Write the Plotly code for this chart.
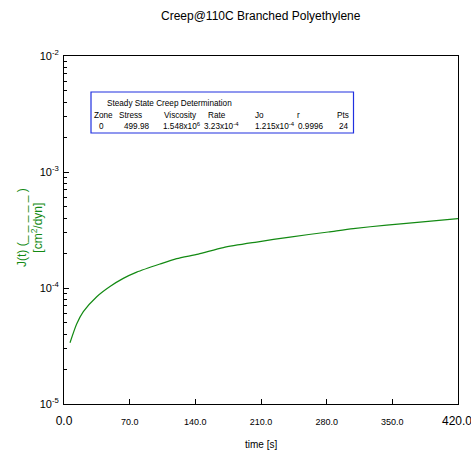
import plotly.graph_objects as go

# Data
time_s = [6.4, 13.5, 20.6, 34.9, 49.0, 63.2, 77.5, 102.3, 120.1, 143.2, 169.8,
          205.4, 240.9, 281.7, 308.4, 344.0, 379.5, 420.0]
compliance = [3.37e-5, 4.89e-5, 6.25e-5, 8.41e-5, 1.03e-4, 1.21e-4, 1.37e-4,
              1.61e-4, 1.79e-4, 1.96e-4, 2.23e-4, 2.49e-4, 2.75e-4, 3.04e-4,
              3.25e-4, 3.49e-4, 3.69e-4, 3.96e-4]

x_ticks = [0, 70, 140, 210, 280, 350, 420]
x_ticktext = ["0.0", "70.0", "140.0", "210.0", "280.0", "350.0", "420.0"]
y_ticks = [1e-5, 1e-4, 1e-3, 1e-2]
y_ticktext = ["10<sup>-5</sup>", "10<sup>-4</sup>", "10<sup>-3</sup>", "10<sup>-2</sup>"]
y_minor = [m * 10 ** e for e in (-5, -4, -3) for m in range(2, 10)]

table_title = "Steady State Creep Determination"
table_headers = ["Zone", "Stress", "Viscosity", "Rate", "Jo", "r", "Pts"]
SUP = "<sup><span style='font-size:6px'>{}</span></sup>"
table_values = ["0", "499.98", "1.548x10" + SUP.format("6"), "3.23x10" + SUP.format("-4"),
                "1.215x10" + SUP.format("-4"), "0.9996", "24"]

GREEN = "#138a13"
FONT = "Liberation Sans, Arial, sans-serif"

# plot area in pixels
L, R, T, B = 64, 458, 56, 404
W, H = 471, 451


def px(x):
    return (x - L) / (R - L)


def py(y):
    return (B - y) / (B - T)


fig = go.Figure()
fig.add_trace(go.Scatter(x=time_s, y=compliance, mode="lines",
                         line=dict(color=GREEN, width=1.2, shape="spline", smoothing=0.7),
                         showlegend=False, hoverinfo="skip"))

tt = []
for i, t in enumerate(x_ticktext):
    if i == 0:
        tt.append(t)
    elif i == len(x_ticktext) - 1:
        tt.append("")
    else:
        tt.append("<span style='font-size:9px'>" + t + "</span>")

fig.update_xaxes(range=[0, 420], tickvals=x_ticks, ticktext=tt,
                 ticks="inside", ticklen=5, tickcolor="black",
                 showline=True, linecolor="black", linewidth=1, mirror=True,
                 showgrid=False, zeroline=False,
                 tickfont=dict(family=FONT, size=12, color="black"),
                 ticklabelstandoff=6)
fig.update_yaxes(type="log", range=[-5, -2], tickvals=y_ticks, ticktext=y_ticktext,
                 ticks="inside", ticklen=5, tickcolor="black",
                 minor=dict(tickvals=y_minor, ticks="inside", ticklen=3,
                            tickcolor="black", showgrid=False),
                 showline=True, linecolor="black", linewidth=1, mirror=True,
                 showgrid=False, zeroline=False,
                 tickfont=dict(family=FONT, size=11, color="black"),
                 ticklabelstandoff=2)

ann = []
# title
ann.append(dict(text="Creep@110C Branched Polyethylene", x=px(261), y=py(16),
                xanchor="center", yanchor="middle",
                font=dict(family=FONT, size=12, color="black")))
# last x tick label (would otherwise be dropped at the edge)
ann.append(dict(text=x_ticktext[-1], x=px(457), y=py(421), xanchor="center", yanchor="middle",
                font=dict(family=FONT, size=12, color="black")))
# x title
ann.append(dict(text="time [s]", x=px(261), y=py(444), xanchor="center", yanchor="middle",
                font=dict(family=FONT, size=10, color="black")))
# y title
ann.append(dict(text="J(t) (_ _ _ _ _ )<br>[cm<sup>2</sup>/dyn]", x=px(30), y=py(228),
                xanchor="center", yanchor="middle", textangle=-90,
                font=dict(family=FONT, size=12, color=GREEN)))

# table
FS = 8.2
ann.append(dict(text=table_title, x=px(105), y=py(103), xanchor="left", yanchor="middle",
                font=dict(family=FONT, size=FS, color="black")))
head_x = [92, 117, 162, 206, 253, 295, 351]
val_x = [97, 122, 161, 202, 253, 296, 351]
for i, h in enumerate(table_headers):
    anchor = "right" if i == len(table_headers) - 1 else "left"
    ann.append(dict(text=h, x=px(head_x[i]), y=py(115), xanchor=anchor, yanchor="middle",
                    font=dict(family=FONT, size=FS, color="black")))
for i, v in enumerate(table_values):
    anchor = "right" if i == len(table_values) - 1 else "left"
    ann.append(dict(text=v, x=px(val_x[i]), y=py(126), xanchor=anchor, yanchor="middle",
                    font=dict(family=FONT, size=FS, color="black")))

for a in ann:
    a.update(xref="paper", yref="paper", showarrow=False)

fig.update_layout(
    width=W, height=H,
    margin=dict(l=L, r=W - R, t=T, b=H - B),
    paper_bgcolor="white", plot_bgcolor="white",
    annotations=ann,
    shapes=[dict(type="rect", xref="paper", yref="paper",
                 x0=px(91), x1=px(353.5), y0=py(133), y1=py(92),
                 line=dict(color="#2030e0", width=1.2), fillcolor="rgba(0,0,0,0)")],
)

fig.write_html("out.html")
